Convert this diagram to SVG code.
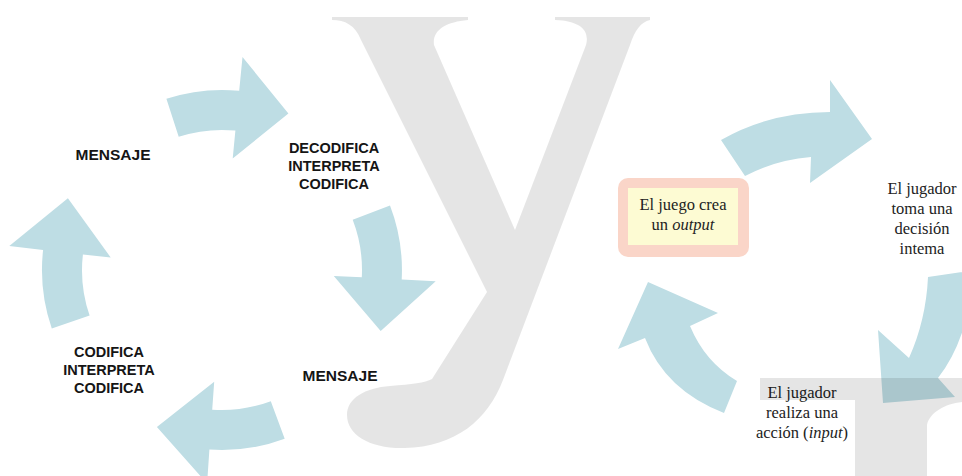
<svg xmlns="http://www.w3.org/2000/svg" width="962" height="476" viewBox="0 0 962 476">
<style>
.arrow{fill:#bedde4;}
.cap{font-family:"Liberation Sans",Arial,sans-serif;font-weight:bold;font-size:14.5px;fill:#151515;text-anchor:middle;}
.capL{font-family:"Liberation Sans",Arial,sans-serif;font-weight:bold;font-size:15.5px;fill:#151515;text-anchor:middle;}
.ser{font-family:"Liberation Serif","Times New Roman",serif;font-size:16.5px;fill:#222;text-anchor:middle;}
.wm{fill:#000;fill-opacity:0.1;}
</style>
<rect x="0" y="0" width="962" height="476" fill="#ffffff"/>

<g id="connectors">
  <!-- left cycle -->
  <path id="a1" class="arrow" d="M166.4,98.8 A180,180 0 0 1 239.2,90.8 L242.5,57 L288.4,113.5 L232.7,158.5 L235.4,130.6 A140,140 0 0 0 178.7,136.8 Z"/>
  <path id="a2" class="arrow" d="M390,205.5 A180,180 0 0 1 401.7,279.4 L435.7,281.2 L380.7,330.9 L333.8,275.9 L361.8,277.3 A140,140 0 0 0 352.7,219.8 Z"/>
  <path id="a3" class="arrow" d="M284.7,438.7 A180,180 0 0 1 209.4,449.6 L207.1,483.5 L156.9,427.1 L214.2,381.7 L212.2,409.7 A140,140 0 0 0 270.8,401.2 Z"/>
  <path id="a4" class="arrow" d="M51.8,328.6 A180,180 0 0 1 43.1,249.9 L9.3,246.1 L67.9,198.2 L110.7,257.5 L82.9,254.4 A140,140 0 0 0 89.6,315.6 Z"/>
  <!-- right cycle -->
  <path id="r1" class="arrow" d="M721,140 Q770,112 830,112 L830,80 L872,139 L810,183 L811,157 Q775,160 745,176 Z"/>
  <path id="r2" class="arrow" d="M928,277 L975,270 Q968,340 938,378 L955,397 L883,403 L878,330 L909,358 Q926,320 928,277 Z"/>
  <path id="r3" class="arrow" d="M737,381 L724,413 Q665,390 645,338 L618,349 L648,282 L718,313 L690,326 Q705,362 737,381 Z"/>
</g>

<g id="n-mensaje-top"><text class="capL" x="113" y="160">MENSAJE</text></g>
<g id="n-decodifica">
  <text class="cap" x="334" y="153">DECODIFICA</text>
  <text class="cap" x="334" y="171">INTERPRETA</text>
  <text class="cap" x="334" y="189">CODIFICA</text>
</g>
<g id="n-mensaje-bottom"><text class="capL" x="340" y="381">MENSAJE</text></g>
<g id="n-codifica">
  <text class="cap" x="109" y="357">CODIFICA</text>
  <text class="cap" x="109" y="375">INTERPRETA</text>
  <text class="cap" x="109" y="393">CODIFICA</text>
</g>

<g id="n-output">
  <rect x="618" y="178" width="131" height="79" rx="10" fill="#fad5c8"/>
  <rect x="628" y="188" width="110" height="57" fill="#fdfbd3"/>
  <text class="ser" x="683" y="210">El juego crea</text>
  <text class="ser" x="683" y="230">un <tspan font-style="italic">output</tspan></text>
</g>
<g id="n-decision">
  <text class="ser" x="922" y="194">El jugador</text>
  <text class="ser" x="922" y="214">toma una</text>
  <text class="ser" x="922" y="234">decisión</text>
  <text class="ser" x="922" y="254">intema</text>
</g>
<g id="n-input">
  <text class="ser" x="802" y="398">El jugador</text>
  <text class="ser" x="802" y="418">realiza una</text>
  <text class="ser" x="802" y="438">acción (<tspan font-style="italic">input</tspan>)</text>
</g>

<g id="watermark">
  <path class="wm" d="M332,17 L468,17 L468,20 C446,22 432,30 434,45 L515,230 L586,45 C590,30 580,21 555,20 L555,17 L650,17 L650,20 C641,22 635,30 630,45 L503,380 C488,420 455,447 405,448 C370,449 347,435 347,415 C347,398 365,388 390,386 C412,384 425,383 432,379 L487,292 L361,40 C355,25 345,20 332,20 Z"/>
  <path class="wm" d="M760,378 L962,378 L962,402 C945,404 930,412 927,425 L927,476 L855,476 L855,400 L760,400 Z"/>
</g>
</svg>
